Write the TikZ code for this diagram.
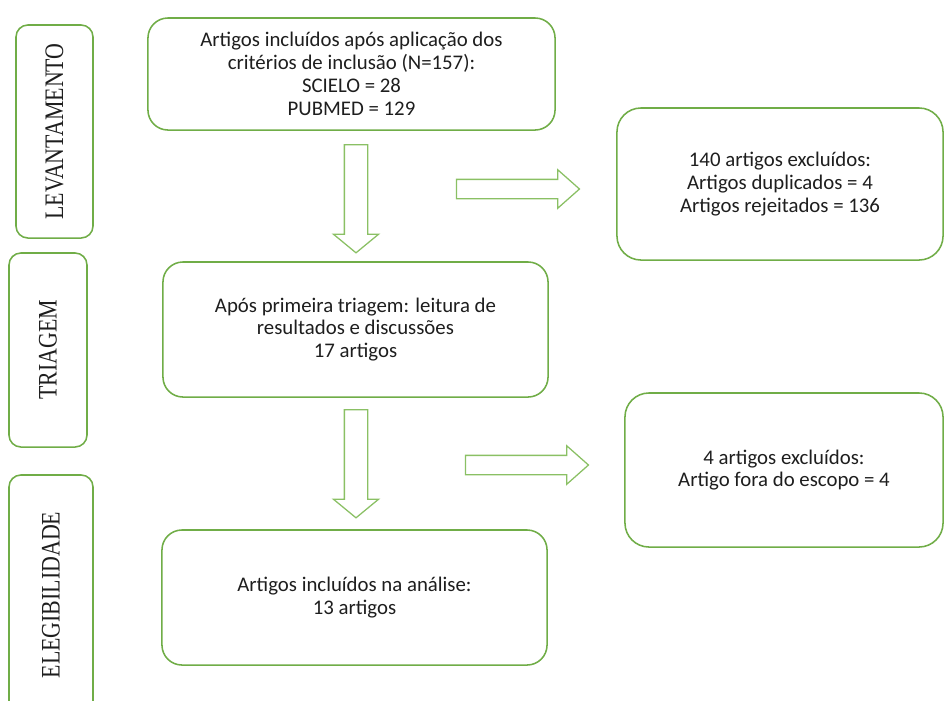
\documentclass[tikz,border=0pt]{standalone}
\usepackage{fontspec}
\setmainfont{Carlito}
\newfontfamily\phasefont{Liberation Serif}
\usepackage{tikz}
\usetikzlibrary{arrows,shapes,positioning}
\usepackage{xcolor}
\definecolor{dfgreen}{RGB}{112,173,71}
\definecolor{dflightgreen}{RGB}{138,192,100}
\definecolor{dftext}{RGB}{30,30,30}
\newcommand{\phase}[1]{\scalebox{0.82}[1]{#1}}
\tikzstyle{stepbox} = [rectangle, rounded corners=0.5cm, draw=dfgreen, line width=1.1pt, fill=white, align=center, text=dftext, font=\fontsize{14.8}{16.2}\selectfont]
\tikzstyle{phasebox} = [rectangle, rounded corners=0.3cm, draw=dfgreen, line width=1.1pt, fill=white, rotate=90, text=dftext, font=\phasefont\fontsize{19}{21}\selectfont]
\tikzstyle{bigarrow} = [single arrow, draw=dflightgreen, line width=0.9pt, fill=white, inner xsep=0pt, minimum height=2.7cm]
\tikzstyle{downarrow} = [bigarrow, rotate=-90, inner ysep=0.275cm, single arrow head extend=0.275cm, single arrow tip angle=101]
\tikzstyle{rightarrow} = [bigarrow, minimum height=3.075cm, inner ysep=0.225cm, single arrow head extend=0.24cm, single arrow tip angle=83]

\begin{document}
\begin{tikzpicture}[x=0.025cm, y=-0.025cm]
\useasboundingbox (0,0) rectangle (945,700);
\clip (0,0) rectangle (945,700);

% fases
\node[phasebox, minimum width=5.325cm, minimum height=1.925cm] (lev) at (54.5,131.5) {\phase{LEVANTAMENTO}};
\node[phasebox, minimum width=4.85cm, minimum height=1.95cm] (tri) at (48,350) {\phase{TRIAGEM}};
\node[phasebox, minimum width=6cm, minimum height=2.1cm] (ele) at (51,595) {\phase{ELEGIBILIDADE}};

% caixas principais
\node[stepbox, minimum width=10.175cm, minimum height=2.8cm] (incl) at (351.5,74) {Artigos incluídos após aplicação dos\\critérios de inclusão (N=157):\\SCIELO = 28\\PUBMED = 129};
\node[stepbox, minimum width=9.625cm, minimum height=3.375cm] (triag) at (355.5,329.5) {Após primeira triagem: leitura de\\resultados e discussões\\17 artigos};
\node[stepbox, minimum width=9.625cm, minimum height=3.375cm] (anal) at (354.5,597.5) {Artigos incluídos na análise:\\13 artigos};

% exclusoes
\node[stepbox, rounded corners=0.6cm, minimum width=8.15cm, minimum height=3.8cm] (exc1) at (780,184) {140 artigos excluídos:\\Artigos duplicados = 4\\Artigos rejeitados = 136};
\node[stepbox, rounded corners=0.6cm, minimum width=7.95cm, minimum height=3.85cm] (exc2) at (784,470) {4 artigos excluídos:\\Artigo fora do escopo = 4};

% setas
\node[downarrow] (d1) at (356,194) {};
\node[rightarrow] (r1) at (512.5,189) {};
\node[downarrow] (d2) at (356,459) {};
\node[rightarrow] (r2) at (521.5,465) {};
\end{tikzpicture}
\end{document}
